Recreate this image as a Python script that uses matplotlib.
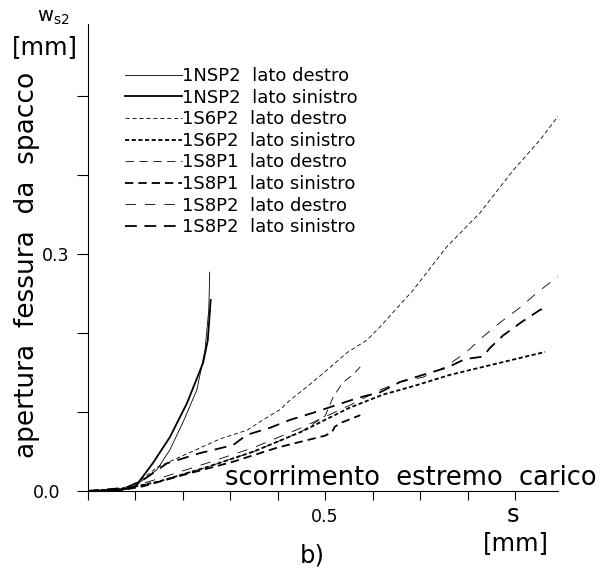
import numpy as np
import matplotlib
matplotlib.use("Agg")
import matplotlib.pyplot as plt
from matplotlib.transforms import ScaledTranslation

# slip s [mm] and crack opening w_s2 [mm]
nsp2_dx_s = [0, 0.07, 0.10, 0.11, 0.146, 0.173, 0.20, 0.23, 0.247, 0.255, 0.257]
nsp2_dx_w = [0, 0.001, 0.004, 0.011, 0.027, 0.052, 0.086, 0.128, 0.178, 0.229, 0.277]
nsp2_sx_s = [0, 0.068, 0.10, 0.116, 0.137, 0.173, 0.209, 0.243, 0.253, 0.259]
nsp2_sx_w = [0, 0.001, 0.006, 0.018, 0.035, 0.068, 0.111, 0.162, 0.191, 0.242]

s6p2_dx_s = [0, 0.06, 0.10, 0.146, 0.22, 0.279, 0.336, 0.369, 0.405, 0.426, 0.462,
             0.496, 0.546, 0.588, 0.616, 0.685, 0.756, 0.826, 0.896, 0.952, 0.994]
s6p2_dx_w = [0, 0.002, 0.008, 0.03, 0.05, 0.066, 0.077, 0.09, 0.103, 0.115, 0.132,
             0.149, 0.175, 0.191, 0.208, 0.254, 0.309, 0.352, 0.406, 0.444, 0.477]
s6p2_sx_s = [0, 0.08, 0.15, 0.25, 0.35, 0.45, 0.55, 0.622, 0.658, 0.693, 0.763, 0.832, 0.963]
s6p2_sx_w = [0, 0.003, 0.012, 0.03, 0.05, 0.075, 0.105, 0.122, 0.128, 0.134, 0.147, 0.157, 0.176]

s8p1_dx_s = [0, 0.08, 0.15, 0.25, 0.35, 0.45, 0.5, 0.517, 0.537, 0.558, 0.574]
s8p1_dx_w = [0, 0.003, 0.012, 0.03, 0.05, 0.075, 0.095, 0.119, 0.137, 0.147, 0.157]
s8p1_sx_s = [0, 0.08, 0.117, 0.2, 0.306, 0.4, 0.5, 0.515, 0.52, 0.532, 0.574]
s8p1_sx_w = [0, 0.002, 0.006, 0.02, 0.037, 0.055, 0.07, 0.075, 0.081, 0.086, 0.096]

s8p2_dx_s = [0, 0.08, 0.146, 0.25, 0.35, 0.45, 0.55, 0.616, 0.657, 0.706, 0.753,
             0.798, 0.832, 0.868, 0.91, 0.946, 0.994]
s8p2_dx_w = [0, 0.003, 0.015, 0.035, 0.055, 0.08, 0.108, 0.128, 0.138, 0.144, 0.157,
             0.176, 0.195, 0.213, 0.232, 0.251, 0.273]
s8p2_sx_s = [0, 0.08, 0.117, 0.167, 0.237, 0.306, 0.335, 0.384, 0.426, 0.475, 0.57,
             0.616, 0.658, 0.706, 0.756, 0.795, 0.832, 0.847, 0.875, 0.914, 0.952, 0.963]
s8p2_sx_w = [0, 0.004, 0.014, 0.035, 0.048, 0.058, 0.071, 0.08, 0.09, 0.099, 0.118,
             0.125, 0.138, 0.147, 0.156, 0.167, 0.17, 0.181, 0.197, 0.214, 0.229, 0.232]

labels = ['1NSP2  lato destro', '1NSP2  lato sinistro',
          '1S6P2  lato destro', '1S6P2  lato sinistro',
          '1S8P1  lato destro', '1S8P1  lato sinistro',
          '1S8P2  lato destro', '1S8P2  lato sinistro']

plt.rcParams['lines.scale_dashes'] = False
plt.rcParams['font.family'] = 'DejaVu Sans'

fig = plt.figure(figsize=(6.13, 5.68), dpi=100)
ax = fig.add_axes([0.143, 0.1356, 0.767, 0.822])

thin, thick = 0.6, 1.3
ax.plot(nsp2_dx_s, nsp2_dx_w, color='k', lw=thin, label=labels[0])
ax.plot(nsp2_sx_s, nsp2_sx_w, color='k', lw=thick, label=labels[1])
ax.plot(s6p2_dx_s, s6p2_dx_w, color='k', lw=thin, dashes=(3.0, 2.0), label=labels[2])
ax.plot(s6p2_sx_s, s6p2_sx_w, color='k', lw=thick, dashes=(3.0, 1.8), label=labels[3])
ax.plot(s8p1_dx_s, s8p1_dx_w, color='k', lw=thin, dashes=(6.0, 4.0), label=labels[4])
ax.plot(s8p1_sx_s, s8p1_sx_w, color='k', lw=thick, dashes=(6.0, 3.6), label=labels[5])
ax.plot(s8p2_dx_s, s8p2_dx_w, color='k', lw=thin, dashes=(7.5, 6.5), label=labels[6])
ax.plot(s8p2_sx_s, s8p2_sx_w, color='k', lw=thick, dashes=(8.5, 5.5), label=labels[7])

ax.set_xlim(0, 0.99)
ax.set_ylim(0, 0.591)
for side in ['top', 'right']:
    ax.spines[side].set_visible(False)
for side in ['left', 'bottom']:
    ax.spines[side].set_linewidth(0.8)

ax.set_xticks(np.arange(0, 1.0, 0.1))
ax.set_xticklabels(['', '', '', '', '', '0.5', '', '', '', ''])
ax.set_yticks(np.arange(0, 0.6, 0.1))
ax.set_yticklabels(['0.0', '', '', '0.3', '', ''])
ax.tick_params(axis='x', direction='out', length=6.5, width=0.8, pad=6, labelsize=12.5)
ax.tick_params(axis='y', direction='out', length=8, width=0.8, pad=5, labelsize=12.5)
for lab in ax.get_xticklabels() + ax.get_yticklabels():
    lab.set_clip_on(False)
# the 0.0 label sits a bit further left in the original
zero_lab = ax.get_yticklabels()[0]
zero_lab.set_transform(zero_lab.get_transform()
                       + ScaledTranslation(-9 / 100, 0, fig.dpi_scale_trans))

big = 18.5
# axis titles placed as in the original drawing
fig.text(27 / 613, 1 - 265 / 568, 'apertura  fessura  da  spacco', rotation=90,
         ha='center', va='center', fontsize=19)
fig.text(45 / 613, 1 - 47 / 568, '[mm]', ha='center', va='center', fontsize=17.5)
fig.text(53 / 613, 1 - 17 / 568, r'w$_{\mathrm{s2}}$', ha='center', va='center', fontsize=14)
fig.text(225 / 613, 1 - 478 / 568, 'scorrimento  estremo  carico', ha='left',
         va='center', fontsize=big)
fig.text(513 / 613, 1 - 515 / 568, 's', ha='center', va='center', fontsize=17.5)
fig.text(516 / 613, 1 - 543 / 568, '[mm]', ha='center', va='center', fontsize=17.5)
fig.text(312 / 613, 1 - 556 / 568, 'b)', ha='center', va='center', fontsize=17.5)

ax.legend(loc='upper left', bbox_to_anchor=(125 / 613, 1 - 67 / 568),
          bbox_transform=fig.transFigure, frameon=False, fontsize=13,
          handlelength=3.15, handletextpad=0.03, labelspacing=0.2,
          borderpad=0, borderaxespad=0)

fig.savefig('out.png', dpi=100)
